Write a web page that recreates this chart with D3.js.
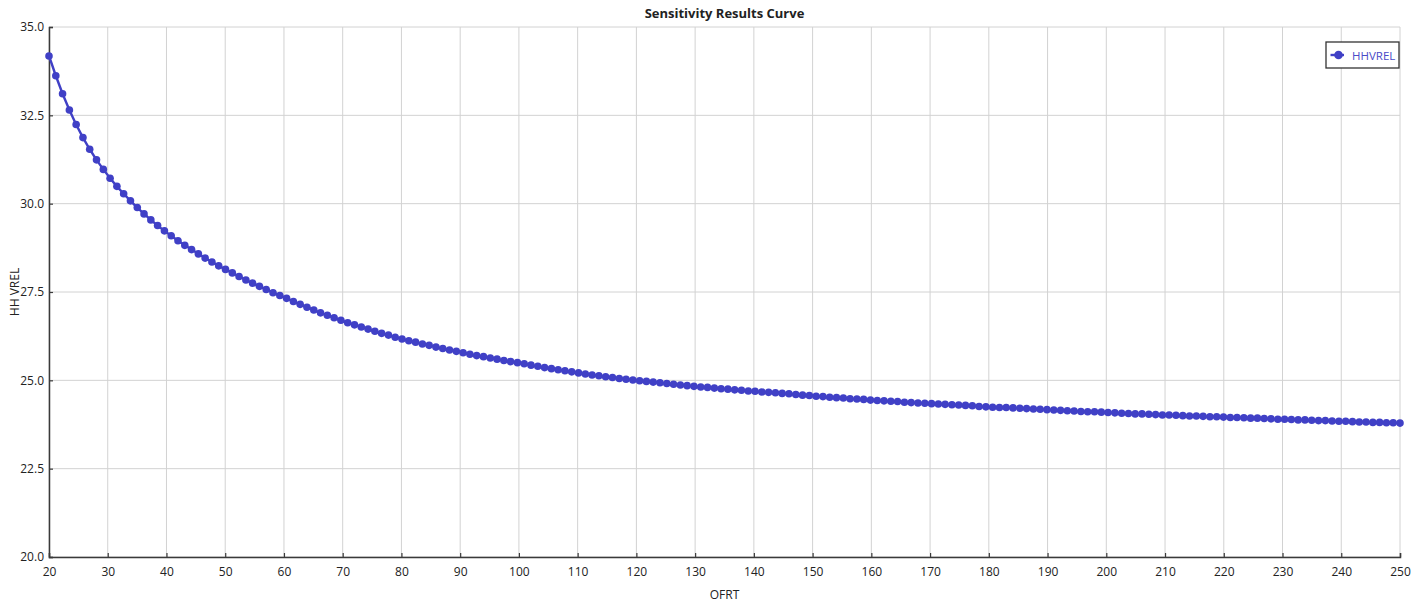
<!DOCTYPE html>
<html>
<meta charset='utf-8'>
<head>
<title>Sensitivity Results Curve</title>
<script src='https://d3js.org/d3.v7.min.js'></script>
<style>
body { margin: 0; background: #fff; }
text { font-family: 'Open Sans', sans-serif; fill: #222; }
</style>
</head>

<body>
<div id='my_dataviz'></div>
<script>

// OFRT sweep values (x)
var ofrt = [
  20.00, 21.16, 22.31, 23.47, 24.62, 25.78, 26.93, 28.09, 29.25, 30.40,
  31.56, 32.71, 33.87, 35.03, 36.18, 37.34, 38.49, 39.65, 40.80, 41.96,
  43.12, 44.27, 45.43, 46.58, 47.74, 48.89, 50.05, 51.21, 52.36, 53.52,
  54.67, 55.83, 56.98, 58.14, 59.30, 60.45, 61.61, 62.76, 63.92, 65.08,
  66.23, 67.39, 68.54, 69.70, 70.85, 72.01, 73.17, 74.32, 75.48, 76.63,
  77.79, 78.94, 80.10, 81.26, 82.41, 83.57, 84.72, 85.88, 87.04, 88.19,
  89.35, 90.50, 91.66, 92.81, 93.97, 95.13, 96.28, 97.44, 98.59, 99.75,
  100.90, 102.06, 103.22, 104.37, 105.53, 106.68, 107.84, 108.99, 110.15, 111.31,
  112.46, 113.62, 114.77, 115.93, 117.09, 118.24, 119.40, 120.55, 121.71, 122.86,
  124.02, 125.18, 126.33, 127.49, 128.64, 129.80, 130.95, 132.11, 133.27, 134.42,
  135.58, 136.73, 137.89, 139.05, 140.20, 141.36, 142.51, 143.67, 144.82, 145.98,
  147.14, 148.29, 149.45, 150.60, 151.76, 152.91, 154.07, 155.23, 156.38, 157.54,
  158.69, 159.85, 161.01, 162.16, 163.32, 164.47, 165.63, 166.78, 167.94, 169.10,
  170.25, 171.41, 172.56, 173.72, 174.87, 176.03, 177.19, 178.34, 179.50, 180.65,
  181.81, 182.96, 184.12, 185.28, 186.43, 187.59, 188.74, 189.90, 191.06, 192.21,
  193.37, 194.52, 195.68, 196.83, 197.99, 199.15, 200.30, 201.46, 202.61, 203.77,
  204.92, 206.08, 207.24, 208.39, 209.55, 210.70, 211.86, 213.02, 214.17, 215.33,
  216.48, 217.64, 218.79, 219.95, 221.11, 222.26, 223.42, 224.57, 225.73, 226.88,
  228.04, 229.20, 230.35, 231.51, 232.66, 233.82, 234.97, 236.13, 237.29, 238.44,
  239.60, 240.75, 241.91, 243.07, 244.22, 245.38, 246.53, 247.69, 248.84, 250.00
]

// HHVREL results (y)
var hhvrel = [
  34.18, 33.62, 33.11, 32.65, 32.24, 31.87, 31.54, 31.24, 30.97, 30.72,
  30.49, 30.28, 30.08, 29.89, 29.71, 29.54, 29.38, 29.23, 29.09, 28.95,
  28.82, 28.70, 28.58, 28.46, 28.35, 28.24, 28.14, 28.04, 27.94, 27.84,
  27.75, 27.66, 27.57, 27.48, 27.40, 27.32, 27.23, 27.15, 27.07, 26.99,
  26.91, 26.84, 26.77, 26.70, 26.63, 26.57, 26.51, 26.45, 26.39, 26.33,
  26.28, 26.22, 26.17, 26.12, 26.08, 26.03, 25.99, 25.94, 25.90, 25.86,
  25.82, 25.78, 25.74, 25.70, 25.67, 25.63, 25.60, 25.56, 25.53, 25.50,
  25.47, 25.43, 25.40, 25.36, 25.33, 25.30, 25.27, 25.24, 25.21, 25.18,
  25.15, 25.13, 25.10, 25.08, 25.05, 25.03, 25.01, 24.99, 24.97, 24.95,
  24.93, 24.91, 24.89, 24.87, 24.85, 24.83, 24.81, 24.80, 24.78, 24.76,
  24.75, 24.73, 24.72, 24.70, 24.69, 24.67, 24.66, 24.65, 24.63, 24.62,
  24.60, 24.58, 24.57, 24.55, 24.54, 24.52, 24.51, 24.50, 24.48, 24.47,
  24.46, 24.44, 24.43, 24.42, 24.41, 24.40, 24.38, 24.37, 24.36, 24.35,
  24.34, 24.33, 24.32, 24.31, 24.30, 24.29, 24.28, 24.26, 24.25, 24.24,
  24.23, 24.23, 24.22, 24.21, 24.20, 24.19, 24.18, 24.17, 24.16, 24.15,
  24.14, 24.13, 24.12, 24.11, 24.11, 24.10, 24.09, 24.08, 24.07, 24.06,
  24.05, 24.05, 24.04, 24.03, 24.02, 24.02, 24.01, 24.00, 23.99, 23.99,
  23.98, 23.97, 23.97, 23.96, 23.95, 23.95, 23.94, 23.93, 23.93, 23.92,
  23.91, 23.90, 23.90, 23.89, 23.88, 23.88, 23.87, 23.86, 23.86, 23.85,
  23.84, 23.84, 23.83, 23.82, 23.82, 23.81, 23.81, 23.80, 23.80, 23.79
]

var xTicks = [20, 30, 40, 50, 60, 70, 80, 90, 100, 110, 120, 130, 140, 150, 160, 170, 180, 190, 200, 210, 220, 230, 240, 250]
var yTicks = [20.0, 22.5, 25.0, 27.5, 30.0, 32.5, 35.0]
var seriesName = 'HHVREL'

var data = ofrt.map(function(d, i) { return {x: d, y: hhvrel[i]} })

var W = 1423, H = 604
var margin = {top: 27, right: 23, bottom: 47, left: 49},
    width = W - margin.left - margin.right,
    height = H - margin.top - margin.bottom

var svg = d3.select('#my_dataviz')
    .append('svg')
    .attr('width', W)
    .attr('height', H)

var g = svg.append('g')
    .attr('transform', 'translate(' + margin.left + ',' + margin.top + ')')

var x = d3.scaleLinear().domain([20, 250]).range([0, width])
var y = d3.scaleLinear().domain([20, 35]).range([height, 0])

var blue = '#4040c6'

// grid
g.append('g').selectAll('line').data(xTicks).enter().append('line')
    .attr('x1', function(d) { return x(d) }).attr('x2', function(d) { return x(d) })
    .attr('y1', 0).attr('y2', height)
    .attr('stroke', '#d2d2d2').attr('stroke-width', 1)
g.append('g').selectAll('line').data(yTicks).enter().append('line')
    .attr('x1', 0).attr('x2', width)
    .attr('y1', function(d) { return y(d) }).attr('y2', function(d) { return y(d) })
    .attr('stroke', '#d2d2d2').attr('stroke-width', 1)

// axes
var xAxis = g.append('g')
    .attr('transform', 'translate(0,' + height + ')')
    .call(d3.axisBottom(x).tickValues(xTicks).tickSize(-4).tickPadding(10).tickFormat(d3.format('d')))
var yAxis = g.append('g')
    .call(d3.axisLeft(y).tickValues(yTicks).tickSize(-4).tickPadding(5).tickFormat(d3.format('.1f')))

;[xAxis, yAxis].forEach(function(a) {
    a.select('.domain').attr('stroke', '#3a3a3a').attr('stroke-width', 1.5)
    a.selectAll('.tick line').attr('stroke', '#3a3a3a').attr('stroke-width', 1.2)
    a.selectAll('.tick text').attr('font-size', 12).attr('fill', '#222')
        .style('font-family', "'Open Sans', sans-serif")
})

// curve
g.append('path')
    .datum(data)
    .attr('fill', 'none')
    .attr('stroke', blue)
    .attr('stroke-width', 2.4)
    .attr('d', d3.line().x(function(d) { return x(d.x) }).y(function(d) { return y(d.y) }))

g.append('g').selectAll('circle').data(data).enter().append('circle')
    .attr('cx', function(d) { return x(d.x) })
    .attr('cy', function(d) { return y(d.y) })
    .attr('r', 3.8)
    .attr('fill', blue)

// title and axis labels
svg.append('text')
    .text('Sensitivity Results Curve')
    .attr('x', margin.left + width / 2)
    .attr('y', 18)
    .attr('text-anchor', 'middle')
    .attr('font-size', 13)
    .attr('font-weight', 'bold')

svg.append('text')
    .text('OFRT')
    .attr('x', margin.left + width / 2)
    .attr('y', 599)
    .attr('text-anchor', 'middle')
    .attr('font-size', 12)

svg.append('text')
    .text('HH VREL')
    .attr('transform', 'translate(19,' + (margin.top + height / 2) + ') rotate(-90)')
    .attr('text-anchor', 'middle')
    .attr('font-size', 12)

// legend
var lg = svg.append('g').attr('transform', 'translate(1326,42)')
lg.append('rect')
    .attr('width', 73).attr('height', 26)
    .attr('fill', '#fff').attr('stroke', '#333').attr('stroke-width', 1.3)
lg.append('line')
    .attr('x1', 4.5).attr('x2', 18).attr('y1', 13).attr('y2', 13)
    .attr('stroke', blue).attr('stroke-width', 2.4)
lg.append('circle').attr('cx', 12.5).attr('cy', 13).attr('r', 4.3).attr('fill', blue)
lg.append('text')
    .text(seriesName)
    .attr('x', 26).attr('y', 17.5)
    .attr('font-size', 11.5)
    .style('fill', '#4a4ac8')

</script>
</body>
</html>
